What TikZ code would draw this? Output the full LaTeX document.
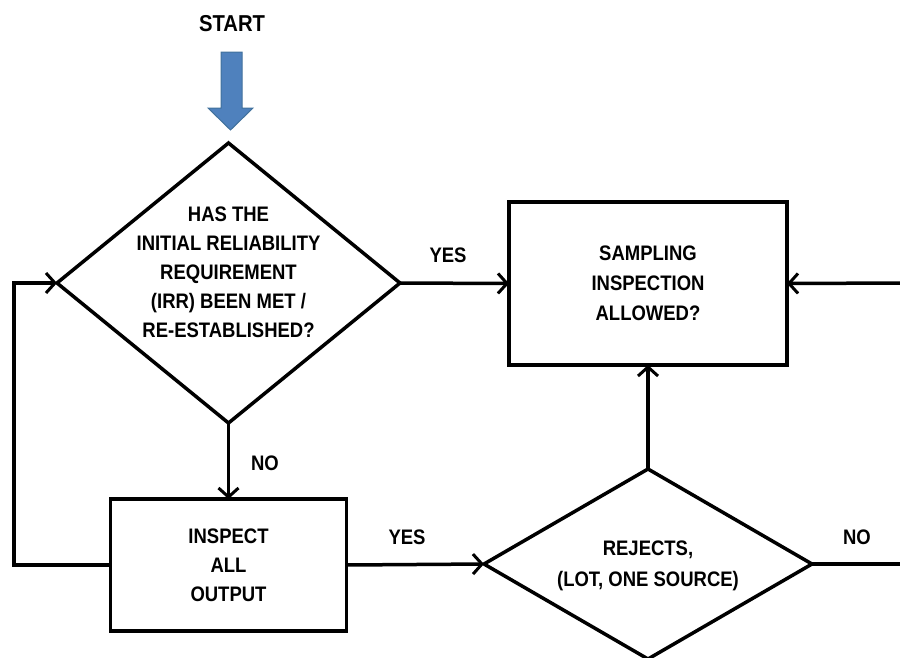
\documentclass[tikz,border=0pt]{standalone}
\usepackage{fontspec}
\setmainfont{Liberation Sans}[FakeStretch=0.88]
\usetikzlibrary{shapes.geometric,arrows.meta}
\definecolor{startblue}{HTML}{4F81BD}
\definecolor{startedge}{HTML}{41719C}
\begin{document}
\begin{tikzpicture}[x=1pt,y=-1pt,
  conn/.style={line width=3.5pt, -{Straight Barb[length=9pt,width=20pt,line width=3pt]}},
  plain/.style={line width=3.5pt},
  dia/.style={diamond, draw, line width=3.5pt, inner sep=0pt, outer sep=0pt},
  box/.style={rectangle, draw, line width=3.5pt, inner sep=0pt, outer sep=0pt},
  txt/.style={font=\fontsize{21}{29}\selectfont\bfseries, align=center, inner sep=0pt},
  lbl/.style={font=\fontsize{21}{24}\selectfont\bfseries, inner sep=0pt}
]
\useasboundingbox (0,0) rectangle (900,657);

% start
\node[lbl, font=\fontsize{23}{26}\selectfont\bfseries] (start) at (232,24) {START};
\draw[fill=startblue, draw=startedge, line width=1pt]
  (221,52) -- (242,52) -- (242,108) -- (253,108) -- (230.5,130) -- (208,108) -- (221,108) -- cycle;

% shapes
\node[dia, minimum width=343pt, minimum height=280pt] (d1) at (228.5,283) {};
\node[txt] (d1t) at (228.5,272) {HAS THE\\INITIAL RELIABILITY\\REQUIREMENT\\(IRR) BEEN MET /\\RE-ESTABLISHED?};

\node[box, minimum width=278pt, minimum height=163pt] (samp) at (648,283.5) {};
\node[txt, font=\fontsize{21}{30}\selectfont\bfseries] (sampt) at (648,283) {SAMPLING\\INSPECTION\\ALLOWED?};

\node[box, minimum width=236pt, minimum height=132pt] (insp) at (228.5,565) {};
\node[txt] (inspt) at (228.5,565) {INSPECT\\ALL\\OUTPUT};

\node[dia, minimum width=328pt, minimum height=190pt] (d2) at (648,564) {};
\node[txt, font=\fontsize{21}{31}\selectfont\bfseries] (d2t) at (648,566) {REJECTS,\\(LOT, ONE SOURCE)};

% free ends
\coordinate (lc) at (14,283);
\coordinate (rin) at (902,283);
\coordinate (rout) at (902,564);

% connectors
\draw[conn] (d1.east) -- (samp.west);
\draw[conn] (d1.south) -- (insp.north);
\draw[conn] (insp.west) -| (lc) -- (d1.west);
\draw[conn] (insp.east) -- (d2.west);
\draw[conn] (d2.north) -- (samp.south);
\draw[conn] (rin) -- (samp.east);
\draw[plain] (d2.east) -- (rout);

% labels
\node[lbl] (yes1) at (448,255) {YES};
\node[lbl] (no1) at (265,463) {NO};
\node[lbl] (yes2) at (407,537) {YES};
\node[lbl] (no2) at (857,537) {NO};
\end{tikzpicture}
\end{document}
